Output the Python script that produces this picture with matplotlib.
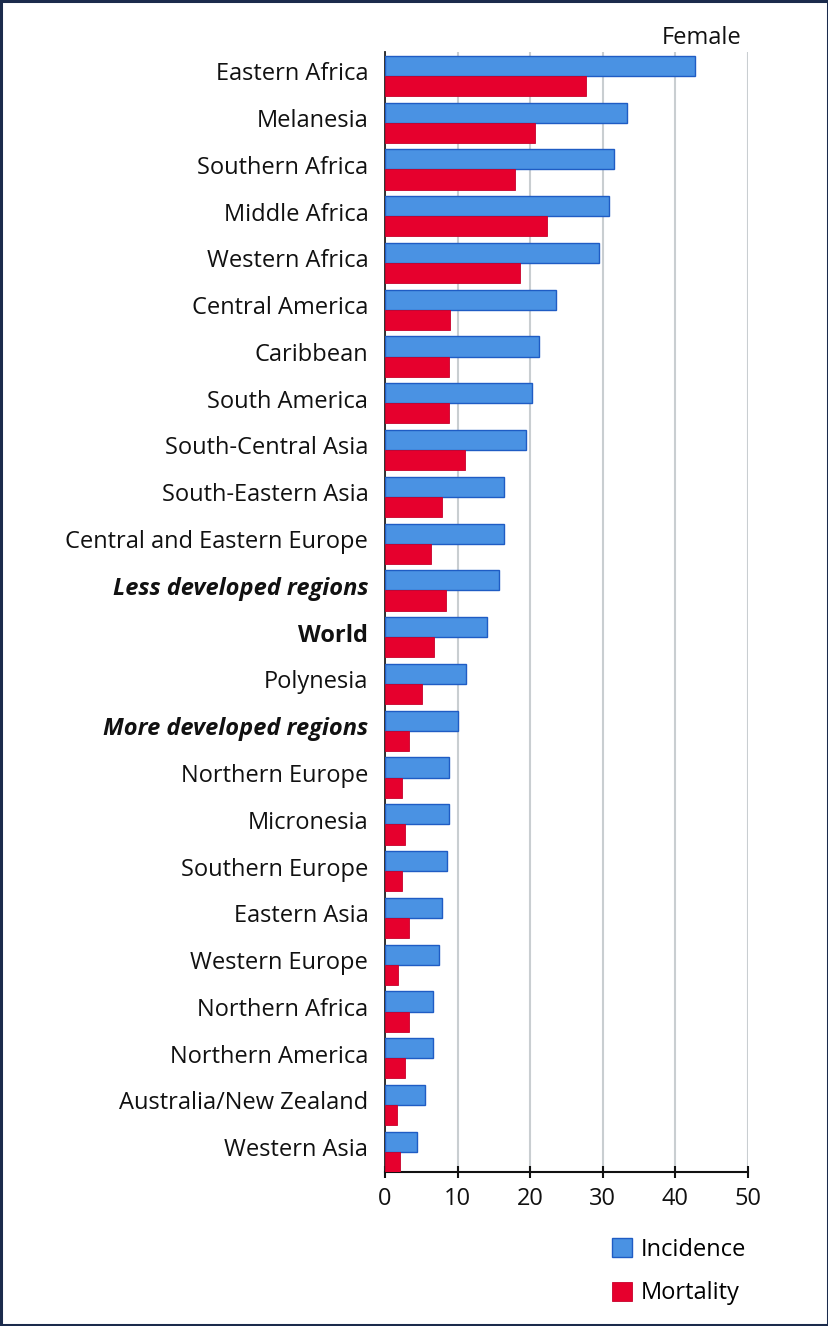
import matplotlib
matplotlib.use("Agg")
import matplotlib.pyplot as plt
from matplotlib.patches import Rectangle, Patch

categories = ["Eastern Africa", "Melanesia", "Southern Africa", "Middle Africa",
              "Western Africa", "Central America", "Caribbean", "South America",
              "South-Central Asia", "South-Eastern Asia", "Central and Eastern Europe",
              "Less developed regions", "World", "Polynesia", "More developed regions",
              "Northern Europe", "Micronesia", "Southern Europe", "Eastern Asia",
              "Western Europe", "Northern Africa", "Northern America",
              "Australia/New Zealand", "Western Asia"]
incidence = [42.7, 33.4, 31.6, 30.8, 29.5, 23.6, 21.2, 20.3, 19.4, 16.4, 16.4,
             15.7, 14.0, 11.1, 10.1, 8.8, 8.8, 8.5, 7.9, 7.5, 6.6, 6.6, 5.5, 4.4]
mortality = [27.7, 20.7, 17.9, 22.3, 18.6, 9.0, 8.8, 8.8, 11.0, 7.9, 6.4,
             8.4, 6.8, 5.1, 3.3, 2.3, 2.7, 2.4, 3.3, 1.8, 3.3, 2.7, 1.6, 2.1]
xticks = [0, 10, 20, 30, 40, 50]
series_names = ["Incidence", "Mortality"]

FONT = ["Open Sans", "DejaVu Sans"]
plt.rcParams['font.family'] = FONT
FS = 17

blue = "#4a92e3"
blue_edge = "#1f5cc4"
red = "#e6002d"
red_edge = "#c8002a"

fig = plt.figure(figsize=(8.29, 13.26), dpi=100)
ax = fig.add_axes([385/829, 1 - 1172/1326, 363/829, (1172-52)/1326])

n = len(categories)
ys = list(range(n))
h = 0.43
ax.barh([y - h/2 for y in ys], incidence, height=h, color=blue, edgecolor=blue_edge,
        linewidth=1.0, zorder=3)
ax.barh([y + h/2 for y in ys], mortality, height=h, color=red, edgecolor=red_edge,
        linewidth=0.6, zorder=3)

ax.set_xlim(0, 50)
ax.set_ylim(n - 1 + 0.43, -0.51)
ax.set_xticks(xticks)
ax.set_xticklabels([str(t) for t in xticks], fontsize=FS, color="#111111")
ax.set_yticks([y - 0.1 for y in ys])
ax.set_yticklabels(categories, fontsize=FS, color="#111111")
for lbl in ax.get_yticklabels():
    t = lbl.get_text()
    if t in ("Less developed regions", "More developed regions"):
        lbl.set_fontweight("bold")
        lbl.set_fontstyle("italic")
    elif t == "World":
        lbl.set_fontweight("bold")
ax.tick_params(axis='y', length=0, pad=12)
ax.tick_params(axis='x', direction='inout', length=8, width=1.5, color="#111111", pad=7)

ax.grid(axis='x', color="#c9ced1", linewidth=1.5, zorder=0)
ax.set_axisbelow(True)
for s in ("top", "right"):
    ax.spines[s].set_visible(False)
ax.spines['left'].set_color("#222222")
ax.spines['left'].set_linewidth(1.3)
ax.spines['bottom'].set_color("#111111")
ax.spines['bottom'].set_linewidth(1.5)

fig.text(742/829, 1 - 38/1326, "Female", ha="right", va="center", fontsize=FS, color="#111111")

handles = [Patch(facecolor=blue, edgecolor=blue_edge, linewidth=1.0),
           Patch(facecolor=red, edgecolor=red_edge, linewidth=0.6)]
fig.legend(handles, series_names, loc="upper left",
           bbox_to_anchor=(612/829, 1 - 1238/1326), frameon=False, fontsize=FS,
           handlelength=0.85, handleheight=0.85, handletextpad=0.35, labelspacing=0.82,
           borderaxespad=0, borderpad=0)

fig.add_artist(Rectangle((0.0015, 0.001), 0.997, 0.998, transform=fig.transFigure,
                         fill=False, edgecolor="#1b2b4c", linewidth=2.2))

fig.savefig("out.png", dpi=100)
